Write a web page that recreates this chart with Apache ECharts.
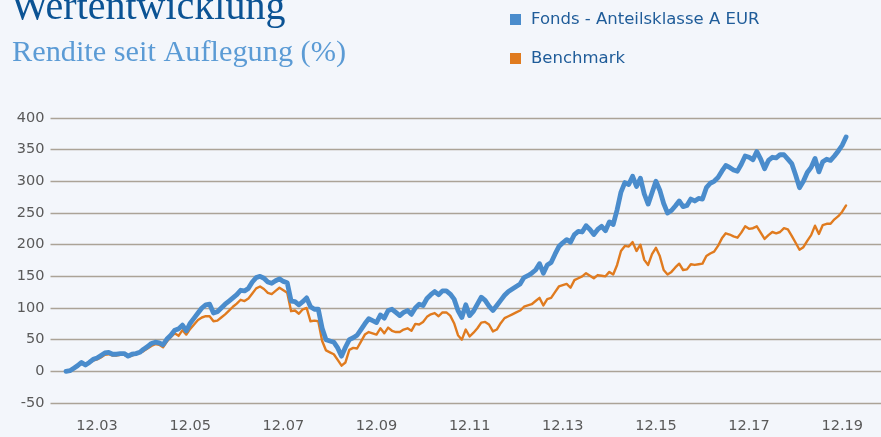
<!DOCTYPE html>
<html>
<head>
<meta charset="utf-8">
<script src="https://cdn.jsdelivr.net/npm/echarts@6/dist/echarts.min.js"></script>
<style>
  html, body { margin: 0; padding: 0; background: #f3f6fb; }
  #main { width: 881px; height: 437px; }
</style>
</head>
<body>
<div id="main"></div>
<script>
// x axis: one category per month, Dec 2002 .. Oct 2020 (label "MM.YY")
const firstYear = 2002;
const monthCount = 215;
const xTickLabels = ["12.03", "12.05", "12.07", "12.09", "12.11", "12.13", "12.15", "12.17", "12.19"];
const yTicks = { min: -50, max: 400, step: 50 };

// monthly values, starting at launch (Apr 2003)
const startMonth = "04.03";
const fondsValues = [
  0, 1, 5, 9, 14, 10, 14, 19, 21, 25, 29, 30,
  27, 27, 28, 28, 24, 27, 28, 30, 35, 39, 44, 46,
  45, 42, 51, 57, 65, 67, 73, 64, 76, 84, 92, 100,
  105, 106, 92, 94, 100, 106, 111, 116, 121, 128, 127, 131,
  141, 148, 150, 147, 141, 139, 143, 146, 142, 140, 111, 110,
  105, 110, 116, 102, 98, 98, 68, 50, 48, 46, 37, 24,
  38, 50, 53, 57, 66, 75, 83, 80, 77, 89, 84, 96,
  98, 93, 88, 93, 96, 90, 100, 106, 104, 115, 121, 126,
  121, 127, 127, 122, 114, 96, 85, 105, 88, 95, 106, 117,
  112, 103, 96, 104, 112, 120, 126, 130, 134, 138, 148, 151,
  155, 160, 170, 155, 168, 172, 185, 197, 203, 208, 204, 216,
  221, 220, 230, 224, 216, 224, 229, 222, 236, 232, 255, 283,
  298, 295, 308, 292, 305, 280, 264, 282, 300, 286, 265, 250,
  254, 261, 269, 260, 262, 272, 269, 273, 272, 290, 297, 300,
  306, 316, 325, 322, 318, 316, 327, 340, 338, 334, 347, 335,
  320, 333, 338, 337, 342, 342, 335, 328, 310, 290, 300, 314,
  322, 336, 315, 331, 335, 333, 340, 348, 357, 370
];
const benchmarkValues = [
  0, 1, 4, 8, 12, 10, 13, 17, 19, 22, 26, 27,
  25, 25, 26, 26, 23, 25, 27, 29, 32, 36, 40, 43,
  42, 38, 47, 54, 60, 56, 65, 58, 67, 74, 81, 85,
  87, 87, 79, 80, 85, 90, 96, 102, 107, 113, 111, 115,
  123, 131, 134, 130, 124, 122, 127, 132, 128, 124, 95, 96,
  91, 98, 100, 79, 80, 79, 48, 33, 30, 27, 18, 9,
  14, 34, 37, 36, 47, 58, 62, 60, 58, 68, 60, 69,
  64, 62, 62, 66, 68, 64, 75, 74, 78, 86, 90, 92,
  87, 93, 93, 88, 76, 57, 50, 66, 55, 61, 68, 77,
  78, 74, 63, 66, 76, 84, 87, 90, 93, 96, 102, 104,
  106, 111, 116, 104, 114, 116, 125, 134, 136, 138, 132, 144,
  147, 150, 155, 151, 147, 152, 151, 150, 157, 153, 168, 190,
  198, 197, 204, 190, 200, 176, 168, 185, 195, 182, 160, 153,
  157, 164, 170, 160, 161, 169, 168, 169, 170, 182, 186, 189,
  198, 210, 218, 216, 213, 211, 219, 229, 225, 226, 229, 219,
  209, 215, 220, 218, 220, 226, 224, 214, 203, 192, 196, 206,
  215, 230, 217, 231, 233, 233, 240, 245, 252, 262
];

const pad = (n) => (n < 10 ? "0" + n : "" + n);
const categories = [];
for (let i = 0; i < monthCount; i++) {
  const m = (11 + i) % 12 + 1;
  const y = firstYear + Math.floor((11 + i) / 12);
  categories.push(pad(m) + "." + pad(y % 100));
}
const offset = categories.indexOf(startMonth);
const toSeries = (vals) => categories.map((c, i) => {
  const k = i - offset;
  return k >= 0 && k < vals.length ? vals[k] : null;
});

const labelFont = "DejaVu Sans";
const gridColor = "#aba397";

const chart = echarts.init(document.getElementById("main"));
chart.setOption({
  backgroundColor: "#f3f6fb",
  animation: false,
  title: [
    {
      text: "Wertentwicklung",
      left: 11,
      top: -12,
      padding: 0,
      textStyle: { fontFamily: "Liberation Serif", fontSize: 40, fontWeight: "normal", color: "#0b5394" }
    },
    {
      text: "Rendite seit Auflegung (%)",
      left: 12,
      top: 38.5,
      padding: 0,
      textStyle: { fontFamily: "Liberation Serif", fontSize: 30.3, fontWeight: "normal", color: "#5b9bd5" }
    }
  ],
  legend: {
    orient: "vertical",
    left: 510,
    top: 11,
    padding: 0,
    itemWidth: 11,
    itemHeight: 11,
    itemGap: 22,
    icon: "rect",
    data: ["Fonds - Anteilsklasse A EUR", "Benchmark"],
    textStyle: { fontFamily: labelFont, fontSize: 16.5, color: "#1f5c99", padding: [0, 0, 0, 5] }
  },
  grid: { left: 50.5, right: -2, top: 118, bottom: 34, containLabel: false },
  xAxis: {
    type: "category",
    data: categories,
    boundaryGap: false,
    axisLine: { show: false },
    axisTick: { show: false },
    splitLine: { show: false },
    axisLabel: {
      interval: (idx, val) => xTickLabels.indexOf(val) >= 0,
      margin: 16,
      fontFamily: labelFont,
      fontSize: 14.5,
      color: "#595959"
    }
  },
  yAxis: {
    type: "value",
    min: yTicks.min,
    max: yTicks.max,
    interval: yTicks.step,
    axisLine: { show: false },
    axisTick: { show: false },
    axisLabel: { margin: 6, fontFamily: labelFont, fontSize: 14.5, color: "#595959" },
    splitLine: { lineStyle: { color: gridColor, width: 1.3 } }
  },
  series: [
    {
      name: "Fonds - Anteilsklasse A EUR",
      type: "line",
      data: toSeries(fondsValues),
      showSymbol: false,
      z: 3,
      color: "#4a8ccc",
      lineStyle: { width: 4.8, color: "#4a8ccc", cap: "round", join: "round" }
    },
    {
      name: "Benchmark",
      type: "line",
      data: toSeries(benchmarkValues),
      showSymbol: false,
      z: 2,
      color: "#e07b1f",
      lineStyle: { width: 2.4, color: "#e07b1f", cap: "round", join: "round" }
    }
  ]
});
</script>
</body>
</html>
